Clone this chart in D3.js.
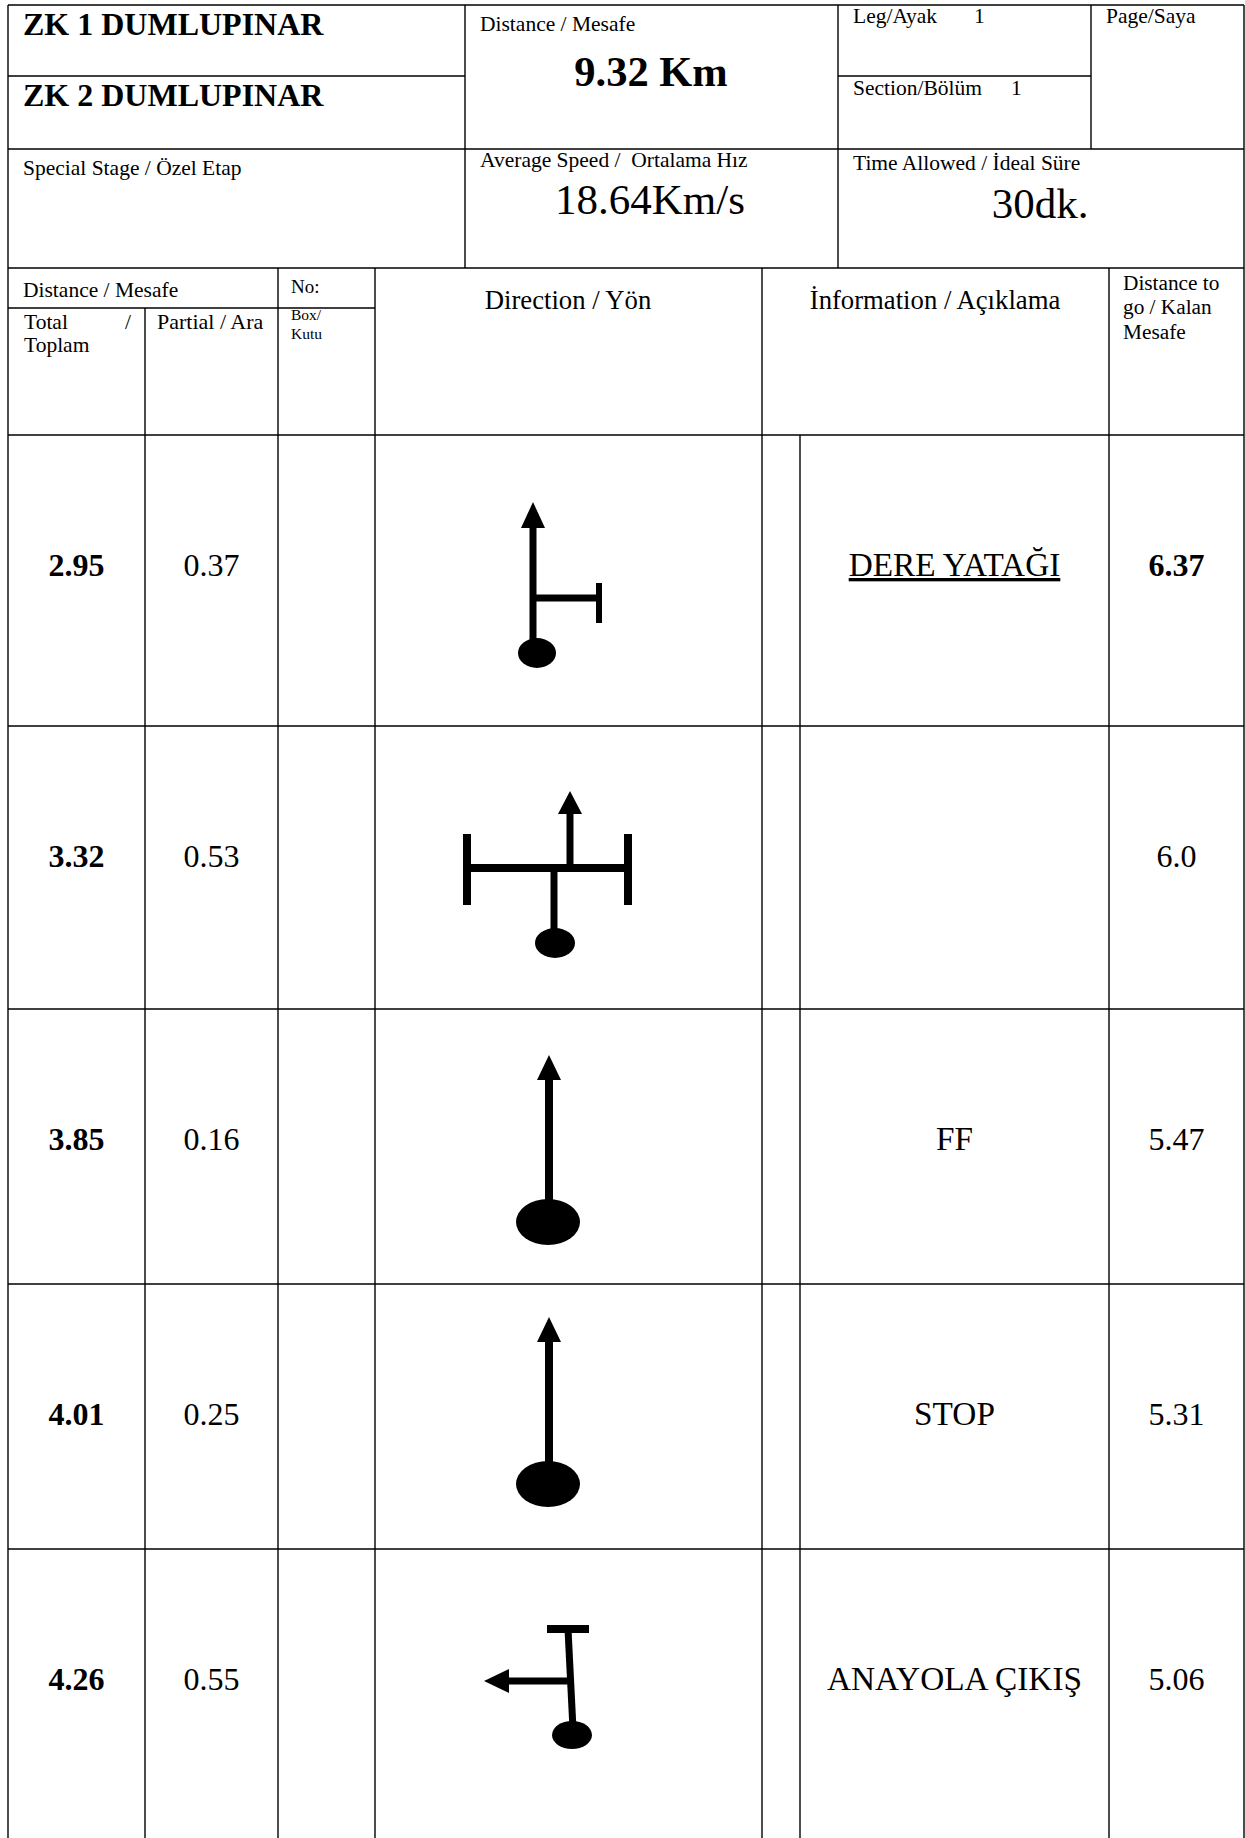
<!DOCTYPE html>
<html>
<head>
<meta charset="utf-8">
<script src="https://cdn.jsdelivr.net/npm/d3@7"></script>
<style>
  body { margin: 0; background: #fff; }
  text { font-family: "Liberation Serif", "Times New Roman", serif; fill: #000; white-space: pre; }
</style>
</head>
<body>
<svg width="1245" height="1838"></svg>
<script>
// ---- data ----
const stageNames = ["ZK 1 DUMLUPINAR", "ZK 2 DUMLUPINAR"];
const stageDistance = "9.32 Km";
const averageSpeed = "18.64Km/s";
const timeAllowed = "30dk.";
const legNo = "1";
const sectionNo = "1";

const totals    = ["2.95", "3.32", "3.85", "4.01", "4.26"];
const partials  = ["0.37", "0.53", "0.16", "0.25", "0.55"];
const infos     = ["DERE YATAĞI", "", "FF", "STOP", "ANAYOLA ÇIKIŞ"];
const remaining = ["6.37", "6.0", "5.47", "5.31", "5.06"];
const tulips    = ["rightStub", "crossroads", "straight", "straight", "leftT"];

const svg = d3.select("svg");
const width = +svg.attr("width");
const height = +svg.attr("height");

// ---- layout ----
const L = 8, R = 1244, T = 5, B = height + 20;
const colEdges = [8, 145, 278, 375, 762, 800, 1109, 1244];
const rowEdges = [435, 726, 1009, 1284, 1549, B];
const tulipShiftY = [0, 0, 0, -13, 0];

const rowIndex = d3.range(totals.length);
const rowTop = d3.scaleOrdinal().domain(rowIndex).range(rowEdges.slice(0, -1));
const colMid = i => (colEdges[i] + colEdges[i + 1]) / 2;

// ---- grid ----
const segs = [
  [L, T, R, T], [L, T, L, B], [R, T, R, B],
  [L, 76, 465, 76], [838, 76, 1091, 76],
  [L, 149, R, 149], [L, 268, R, 268],
  [465, T, 465, 268], [838, T, 838, 268], [1091, T, 1091, 149],
  [L, 308, 375, 308],
  [145, 308, 145, B], [278, 268, 278, B], [375, 268, 375, B],
  [762, 268, 762, B], [1109, 268, 1109, B], [800, 435, 800, B]
];
rowEdges.slice(0, -1).forEach(y => segs.push([L, y, R, y]));

svg.append("g").selectAll("line").data(segs)
  .enter().append("line")
    .attr("x1", d => d[0]).attr("y1", d => d[1])
    .attr("x2", d => d[2]).attr("y2", d => d[3])
    .attr("stroke", "#000")
    .attr("stroke-width", 1.4);

// ---- header text ----
const label = (x, y, txt, size, opts = {}) => {
  svg.append("text")
    .attr("x", x).attr("y", y)
    .attr("font-size", size)
    .attr("font-weight", opts.bold ? "bold" : null)
    .attr("text-anchor", opts.anchor || "start")
    .text(txt);
};

label(23, 35, stageNames[0], 32, {bold: true});
label(23, 106, stageNames[1], 32, {bold: true});
label(480, 31, "Distance / Mesafe", 21.5);
label(651, 86, stageDistance, 42.5, {bold: true, anchor: "middle"});
label(853, 23, "Leg/Ayak", 21.5);
label(974, 23, legNo, 21.5);
label(853, 95, "Section/Bölüm", 21.5);
label(1011, 95, sectionNo, 21.5);
label(1106, 23, "Page/Saya", 21.5);
label(23, 175, "Special Stage / Özel Etap", 21.5);
label(480, 167, "Average Speed /  Ortalama Hız", 21.5);
label(650, 214, averageSpeed, 43, {anchor: "middle"});
label(853, 170, "Time Allowed / İdeal Süre", 21.5);
label(1040, 218, timeAllowed, 43, {anchor: "middle"});

// column headers
label(23, 297, "Distance / Mesafe", 21.5);
label(291, 293, "No:", 19);
label(24, 329, "Total", 21.5);
label(125, 329, "/", 21.5);
label(24, 352, "Toplam", 21.5);
label(157, 329, "Partial / Ara", 22);
label(291, 320, "Box/", 15.5);
label(291, 339, "Kutu", 15.5);
label(568, 309, "Direction / Yön", 26.7, {anchor: "middle"});
label(935, 309, "İnformation / Açıklama", 26.7, {anchor: "middle"});
label(1123, 290, "Distance to", 21.3);
label(1123, 314, "go / Kalan", 21.3);
label(1123, 339, "Mesafe", 21.3);

// ---- rows ----
const rows = svg.append("g").selectAll("g").data(rowIndex)
  .enter().append("g")
    .attr("transform", i => `translate(0, ${rowTop(i)})`);

const cell = (col, values, size, boldFn, underlineFn) => {
  rows.append("text")
    .attr("x", colMid(col))
    .attr("y", 141)
    .attr("text-anchor", "middle")
    .attr("font-size", size)
    .attr("font-weight", i => boldFn(i) ? "bold" : null)
    .attr("text-decoration", i => underlineFn(i) ? "underline" : null)
    .text(i => values[i]);
};

cell(0, totals, 32, () => true, () => false);
cell(1, partials, 32, () => false, () => false);
cell(5, infos, 33.3, () => false, i => i === 0);
cell(6, remaining, 32, i => i === 0, () => false);

// ---- tulip diagrams ----
const tulipShapes = {
  rightStub: {
    lines: [[158, 90, 158, 212, 7], [158, 163, 224, 163, 7], [224, 148, 224, 188, 6]],
    heads: [[[158, 67], [146, 93], [170, 93]]],
    dots: [[162, 218, 19, 15]]
  },
  crossroads: {
    lines: [[92, 142, 253, 142, 8], [92, 108, 92, 179, 8], [253, 108, 253, 179, 8],
            [195, 146, 195, 85, 7], [179, 142, 179, 205, 7]],
    heads: [[[195, 65], [183, 88], [207, 88]]],
    dots: [[180, 217, 20, 15]]
  },
  straight: {
    lines: [[174, 68, 174, 200, 8]],
    heads: [[[174, 46], [162, 71], [186, 71]]],
    dots: [[173, 213, 32, 23]]
  },
  leftT: {
    lines: [[172, 80, 214, 80, 8], [193, 80, 198, 180, 7], [196, 132, 130, 132, 7]],
    heads: [[[109, 132], [134, 120], [134, 144]]],
    dots: [[197, 186, 20, 14]]
  }
};

rows.each(function(i) {
  const shape = tulipShapes[tulips[i]];
  const g = d3.select(this).append("g")
    .attr("transform", `translate(${colEdges[3]}, ${tulipShiftY[i]})`);
  g.selectAll("line").data(shape.lines)
    .enter().append("line")
      .attr("x1", d => d[0]).attr("y1", d => d[1])
      .attr("x2", d => d[2]).attr("y2", d => d[3])
      .attr("stroke", "#000")
      .attr("stroke-width", d => d[4]);
  g.selectAll("path").data(shape.heads)
    .enter().append("path")
      .attr("d", d => d3.line()(d) + "Z")
      .attr("fill", "#000");
  g.selectAll("ellipse").data(shape.dots)
    .enter().append("ellipse")
      .attr("cx", d => d[0]).attr("cy", d => d[1])
      .attr("rx", d => d[2]).attr("ry", d => d[3])
      .attr("fill", "#000");
});
</script>
</body>
</html>
